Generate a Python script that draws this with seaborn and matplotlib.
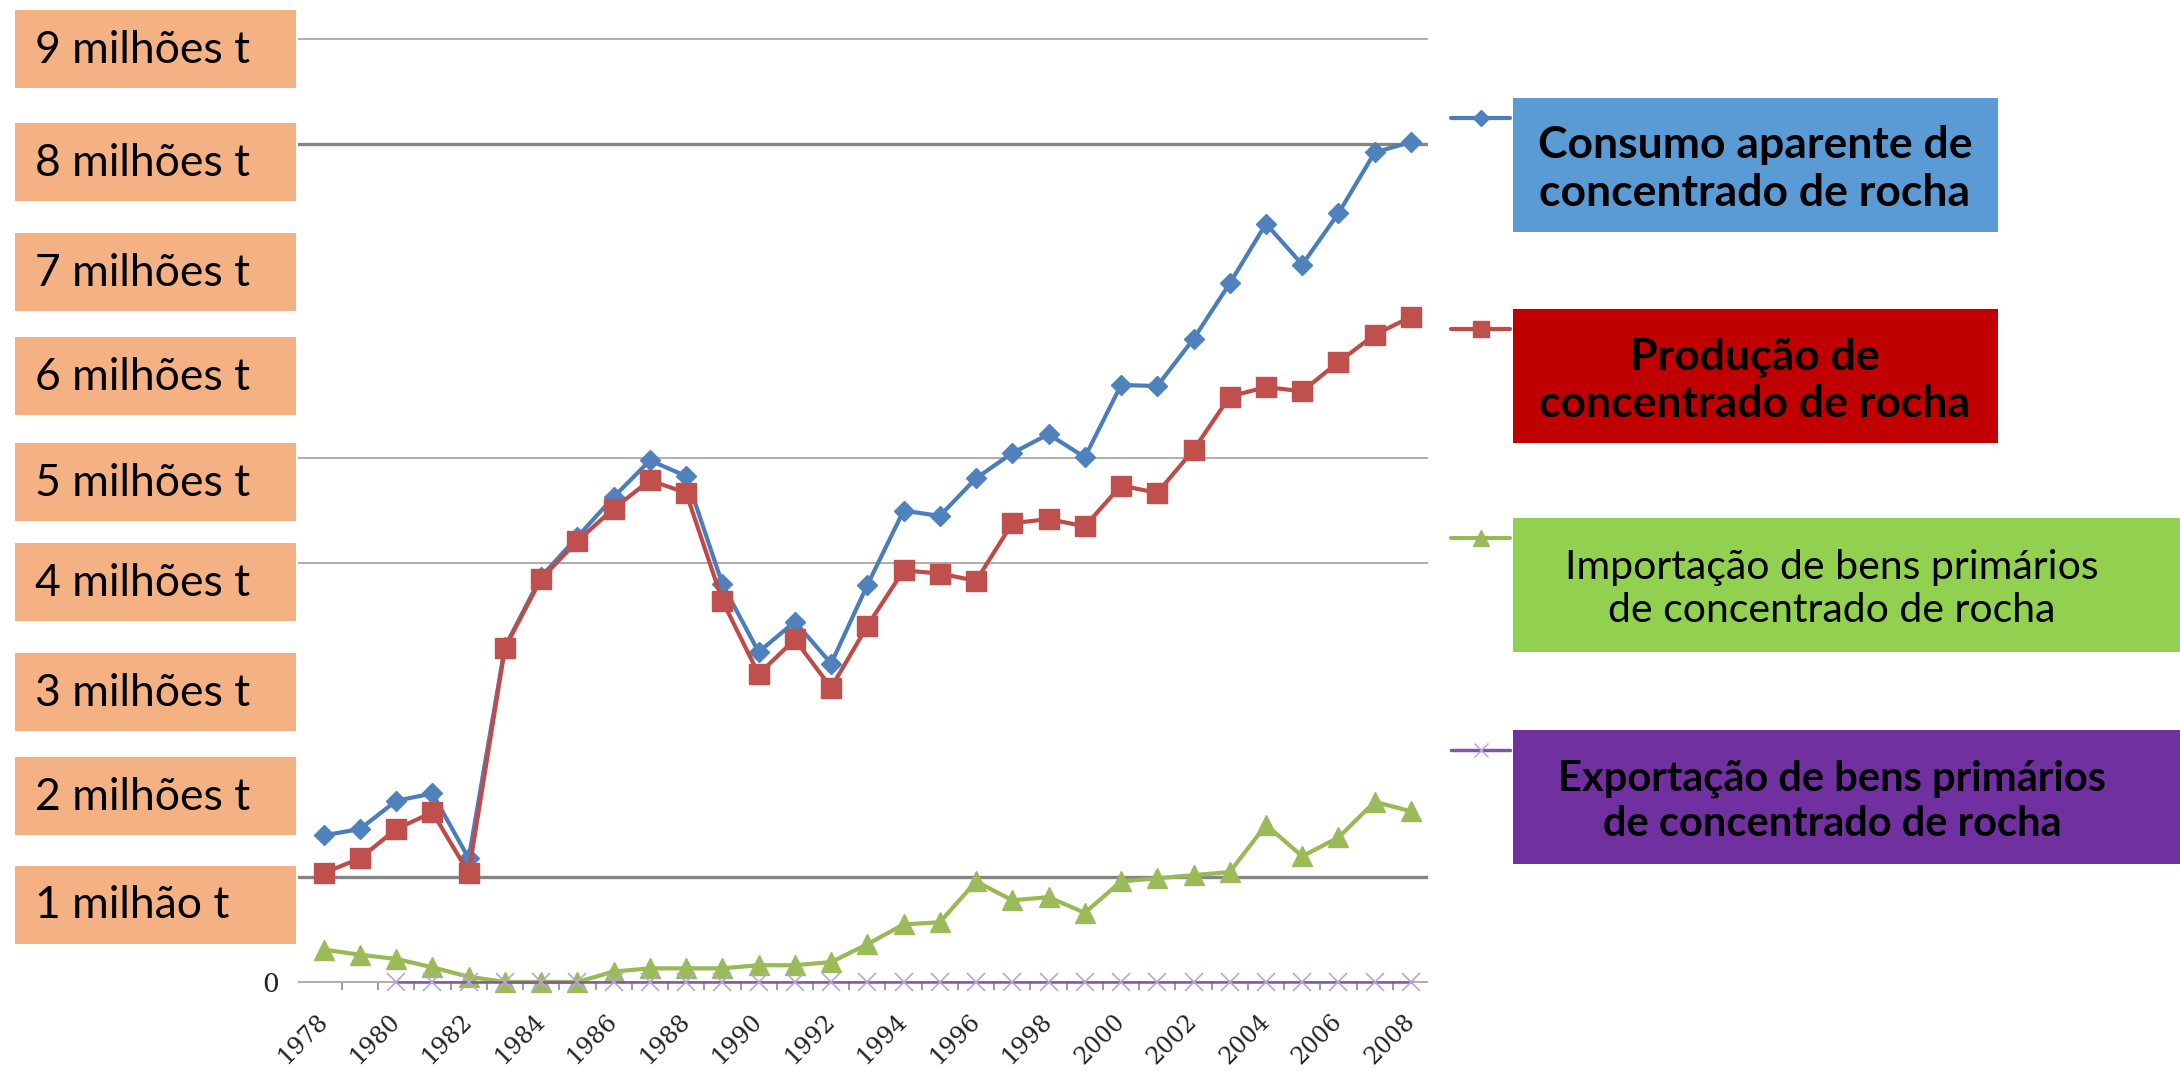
import matplotlib

matplotlib.use("Agg")
import matplotlib.pyplot as plt
import numpy as np
import pandas as pd
import seaborn as sns
from matplotlib.lines import Line2D
from matplotlib.patches import Rectangle

# valores em milhões de toneladas
ANOS = list(range(1978, 2009))
CONSUMO = [1.40, 1.46, 1.73, 1.80, 1.18, 3.20, 3.87, 4.25, 4.63, 4.98, 4.83,
           3.80, 3.15, 3.44, 3.04, 3.79, 4.50, 4.45, 4.81, 5.05, 5.23, 5.01,
           5.70, 5.69, 6.14, 6.67, 7.24, 6.85, 7.34, 7.92, 8.02]
PRODUCAO = [1.04, 1.18, 1.46, 1.62, 1.04, 3.19, 3.85, 4.21, 4.52, 4.79, 4.67,
            3.64, 2.94, 3.27, 2.81, 3.40, 3.93, 3.90, 3.83, 4.38, 4.42, 4.35,
            4.74, 4.67, 5.08, 5.59, 5.68, 5.64, 5.92, 6.18, 6.35]
IMPORTACAO = [0.31, 0.26, 0.22, 0.14, 0.05, 0.00, 0.00, 0.00, 0.10, 0.13, 0.13,
              0.13, 0.16, 0.16, 0.19, 0.36, 0.55, 0.57, 0.96, 0.78, 0.81, 0.66,
              0.96, 0.99, 1.02, 1.05, 1.50, 1.20, 1.38, 1.72, 1.63]
EXPORTACAO = [np.nan, np.nan] + [0.0] * 29

SERIES = [
    "Consumo aparente de\nconcentrado de rocha",
    "Produção de\nconcentrado de rocha",
    "Importação de bens primários\nde concentrado de rocha",
    "Exportação de bens primários\nde concentrado de rocha",
]
ROTULOS_Y = ["9 milhões t", "8 milhões t", "7 milhões t", "6 milhões t",
             "5 milhões t", "4 milhões t", "3 milhões t", "2 milhões t",
             "1 milhão t"]
GRADE = [0, 1, 4, 5, 8, 9]
GRADE_FORTE = [1, 8]

LINE_COLORS = ["#4A7EBB", "#BE4B48", "#98B954", "#7E57A8"]
MARKER_COLORS = ["#4F81BD", "#C0504D", "#9BBB59", "#B7A5D3"]
MARKERS = ["D", "s", "^", "x"]
MARKER_SIZES = [10, 14, 14, 13]
BOX_COLORS = ["#5B9BD5", "#C00000", "#92D050", "#7030A0"]
BOX_BOLD = [True, True, False, True]
BOX_FONT = [32, 32, 29.5, 30]

W, H = 2180, 1071


def px(x, y):
    return x / W, 1 - y / H


sns.set_theme(style="white")
plt.rcParams["font.family"] = ["Lato", "DejaVu Sans"]

fig = plt.figure(figsize=(W / 100, H / 100), dpi=100)
# eixo: x 298..1428 px, y de 28.9 (9.1) a 1013.4 (-0.3)
ax = fig.add_axes([298 / W, (H - 1013.4) / H, 1130 / W, 984.5 / H])

for nivel in GRADE:
    forte = nivel in GRADE_FORTE
    ax.axhline(nivel, color="#858585" if forte else "#A8A8A8",
               lw=2.4 if forte else 1.3, zorder=1)

for i, valores in enumerate([CONSUMO, PRODUCAO, IMPORTACAO, EXPORTACAO]):
    frame = pd.DataFrame({"ano": ANOS, "valor": valores}).dropna()
    sns.lineplot(
        data=frame, x="ano", y="valor", color=LINE_COLORS[i],
        lw=3.0 if i < 3 else 1.8, marker=MARKERS[i],
        markersize=MARKER_SIZES[i], markerfacecolor=MARKER_COLORS[i],
        markeredgecolor=MARKER_COLORS[i], markeredgewidth=1.0 if i < 3 else 1.2,
        errorbar=None, ax=ax, zorder=3 + i, clip_on=False,
    )

ax.set_xlim(1977.29, 2008.47)
ax.set_ylim(-0.3, 9.1)
for s in ax.spines.values():
    s.set_visible(False)
ax.spines["bottom"].set_position(("data", 0))
ax.set_xticks(ANOS[::2])
ax.set_xticklabels([str(a) for a in ANOS[::2]], rotation=45, ha="right",
                   va="center", rotation_mode="anchor",
                   family="DejaVu Serif", fontsize=17, color="#222222")
ax.set_xticks([a + 0.5 for a in ANOS[:-1]], minor=True)
ax.tick_params(axis="x", which="major", length=0, pad=26)
ax.tick_params(axis="x", which="minor", bottom=True, length=6, width=1.2,
               color="#8A8A8A", direction="out")
ax.set_yticks([0])
ax.set_yticklabels(["0"], family="DejaVu Serif", fontsize=19, color="#222222")
ax.tick_params(axis="y", length=0, pad=14)
ax.set_xlabel("")
ax.set_ylabel("")
ax.grid(False)

# rótulos de milhões à esquerda
topos = [10, 123, 233, 337, 443, 543, 653, 757, 866]
for rotulo, topo in zip(ROTULOS_Y, topos):
    fig.patches.append(Rectangle(px(15, topo + 77.5), 281 / W, 77.5 / H,
                                 transform=fig.transFigure,
                                 facecolor="#F4B183", edgecolor="none"))
    fig.text(*px(35, topo + 40), rotulo, fontsize=32, va="center",
             ha="left", color="black")

# legenda com caixas coloridas
caixas = [(1513, 98, 1998), (1513, 309, 1998), (1513, 518, 2180),
          (1513, 730, 2180)]
centros_x = [1755, 1755, 1832, 1832]
for i, (x0, y0, x1) in enumerate(caixas):
    fig.patches.append(Rectangle(px(x0, y0 + 134), (x1 - x0) / W, 134 / H,
                                 transform=fig.transFigure,
                                 facecolor=BOX_COLORS[i], edgecolor="none"))
    fig.text(*px(centros_x[i], y0 + 71), SERIES[i], fontsize=BOX_FONT[i],
             fontweight="bold" if BOX_BOLD[i] else "normal",
             ha="center", va="center", linespacing=1.22, color="black",
             multialignment="center")
    ly = y0 + 20
    fig.add_artist(Line2D([1451 / W, 1510 / W], [1 - ly / H] * 2,
                          color=LINE_COLORS[i], lw=3.0 if i < 3 else 2.5,
                          transform=fig.transFigure))
    fig.add_artist(Line2D([1481 / W], [1 - ly / H], marker=MARKERS[i],
                          markersize=MARKER_SIZES[i] * 0.8,
                          color=MARKER_COLORS[i],
                          markeredgecolor=MARKER_COLORS[i],
                          transform=fig.transFigure))

fig.savefig("out.png", dpi=100, facecolor="white")
